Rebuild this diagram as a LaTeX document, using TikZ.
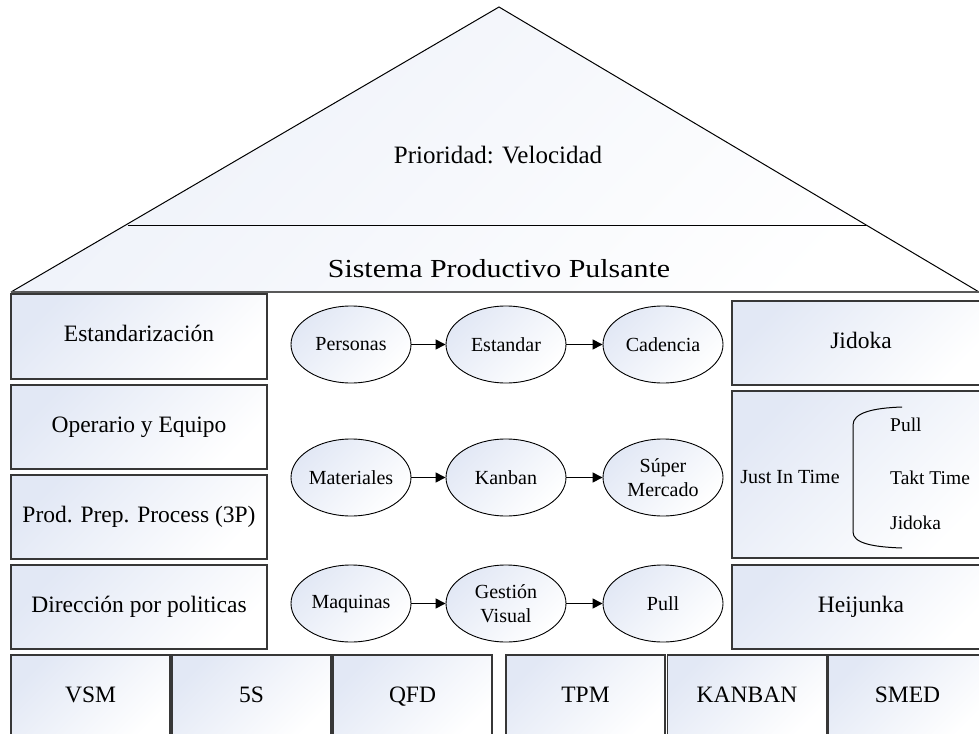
\documentclass[tikz,border=0pt]{standalone}
\usepackage{fontspec}
\setmainfont{Liberation Serif}
\usetikzlibrary{arrows.meta,shapes.geometric}

\definecolor{tint}{RGB}{226,232,245}
\definecolor{edge}{RGB}{55,55,55}

\tikzset{
  shadefill/.style={top color=tint, middle color=tint!35, bottom color=white, shading angle=45},
  block/.style={draw=edge, line width=1.4pt, shadefill, inner sep=0pt,
    text height=16pt, text depth=5.5pt,
    font=\fontsize{23.5}{28}\selectfont},
  leftblock/.style={block, minimum width=256pt, minimum height=84pt},
  rightblock/.style={block, minimum width=258pt, minimum height=84pt},
  baseblock/.style={block, minimum width=159pt, minimum height=85pt},
  bubble/.style={ellipse, draw=black, line width=0.9pt, shadefill, inner sep=0pt,
    minimum width=120pt, minimum height=77pt, align=center,
    font=\fontsize{20}{24}\selectfont},
  flow/.style={line width=1.4pt, -{Triangle[length=10pt,width=10pt]}},
  roofline/.style={line width=1pt, black},
  small/.style={font=\fontsize{19.5}{23}\selectfont, inner sep=0pt, anchor=west}
}

\begin{document}
\begin{tikzpicture}[x=1pt, y=-1pt]
\useasboundingbox (0,0) rectangle (979,733);

% roof
\coordinate (apex) at (499,7);
\coordinate (eaveL) at (11,292);
\coordinate (eaveR) at (979,292);
\coordinate (midL) at (128,225);
\coordinate (midR) at (866,225);
\shade[top color=tint!60, middle color=tint!20, bottom color=white, shading angle=45]
  (apex) -- (eaveR) -- (eaveL) -- cycle;
\draw[roofline] (eaveL) -- (apex) -- (eaveR);
\draw[roofline] (midL) -- (midR);
\draw[line width=2.6pt, black!65] (eaveL) -- (eaveR);
\node[font=\fontsize{25}{30}\selectfont] (prio) at (498,155) {Prioridad: Velocidad};
\node[font=\fontsize{26}{30}\selectfont, xscale=1.15] (spp) at (499,269) {Sistema Productivo Pulsante};

% left column
\node[leftblock, minimum height=85pt] (estd) at (139,336.5) {Estandarización};
\node[leftblock] (oper) at (139,427) {Operario y Equipo};
\node[leftblock] (prep) at (139,517) {Prod. Prep. Process (3P)};
\node[leftblock] (dirp) at (139,607) {Dirección por politicas};

% right column
\node[rightblock] (jid) at (861,343) {Jidoka};
\node[rightblock, minimum height=167pt] (jit) at (861,474.5) {};
\node[rightblock] (hei) at (861,607) {Heijunka};
\node[font=\fontsize{20}{24}\selectfont] (jitlabel) at (790,477) {Just In Time};
\draw[line width=1pt] (902,407) .. controls (872,408) and (853,413) .. (853,425)
  -- (853,532) .. controls (853,543) and (872,547) .. (902,548);
\node[small] (pull) at (890,425) {Pull};
\node[small] (takt) at (890,478) {Takt Time};
\node[small] (jidk) at (890,523) {Jidoka};

% base row
\node[baseblock] (vsm) at (90.5,697.5) {VSM};
\node[baseblock] (fives) at (251.5,697.5) {5S};
\node[baseblock] (qfd) at (412.5,697.5) {QFD};
\node[baseblock] (tpm) at (585.5,697.5) {TPM};
\node[baseblock] (kanb) at (747,697.5) {KANBAN};
\node[baseblock] (smed) at (907.5,697.5) {SMED};

% flows
\node[bubble] (pers) at (351,344.5) {Personas};
\node[bubble] (estn) at (506,344.5) {Estandar};
\node[bubble] (cade) at (663,344.5) {Cadencia};
\node[bubble] (mate) at (351,477.5) {Materiales};
\node[bubble] (kanbn) at (506,477.5) {Kanban};
\node[bubble] (supm) at (663,477.5) {Súper\\Mercado};
\node[bubble] (maqu) at (351,603.5) {Maquinas};
\node[bubble] (gest) at (506,603.5) {Gestión\\Visual};
\node[bubble] (pulb) at (663,603.5) {Pull};

\draw[flow] (pers) -- (estn);
\draw[flow] (estn) -- (cade);
\draw[flow] (mate) -- (kanbn);
\draw[flow] (kanbn) -- (supm);
\draw[flow] (maqu) -- (gest);
\draw[flow] (gest) -- (pulb);
\end{tikzpicture}
\end{document}
